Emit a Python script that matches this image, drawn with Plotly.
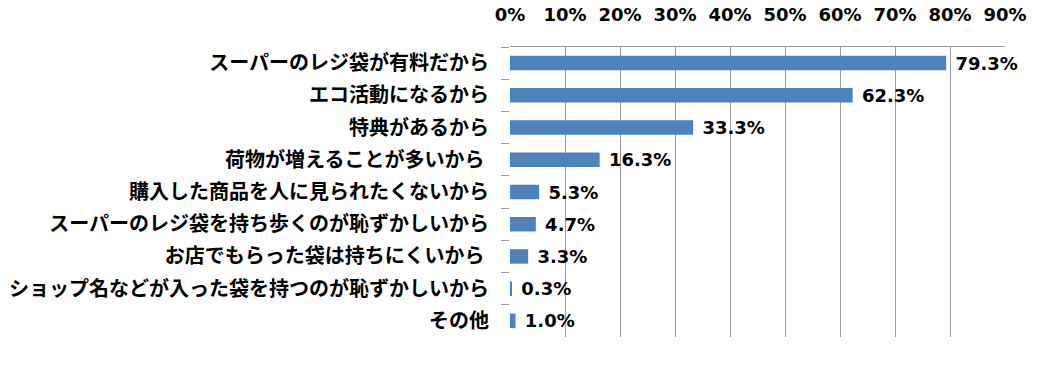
import plotly.graph_objects as go

categories = [
    "スーパーのレジ袋が有料だから",
    "エコ活動になるから",
    "特典があるから",
    "荷物が増えることが多いから\u00a0",
    "購入した商品を人に見られたくないから",
    "スーパーのレジ袋を持ち歩くのが恥ずかしいから",
    "お店でもらった袋は持ちにくいから\u00a0",
    "ショップ名などが入った袋を持つのが恥ずかしいから",
    "その他",
]
values = [79.3, 62.3, 33.3, 16.3, 5.3, 4.7, 3.3, 0.3, 1.0]
tick_vals = [0, 10, 20, 30, 40, 50, 60, 70, 80, 90]
tick_text = ["0%", "10%", "20%", "30%", "40%", "50%", "60%", "70%", "80%", "90%"]

fig = go.Figure(
    go.Bar(
        x=values,
        y=categories,
        orientation="h",
        marker=dict(color="#4F81BD", line=dict(width=0)),
        width=0.45,
        text=[f" {v:.1f}%" for v in values],
        textposition="outside",
        constraintext="none",
        textfont=dict(family="DejaVu Sans", size=18, color="black", weight="bold"),
        cliponaxis=False,
    )
)

fig.update_layout(
    width=1052,
    height=385,
    margin=dict(l=510, r=47, t=47, b=48),
    paper_bgcolor="white",
    plot_bgcolor="white",
    showlegend=False,
    font=dict(family="Noto Sans CJK JP", color="black"),
)

fig.update_xaxes(
    side="top",
    range=[0, 90],
    tickvals=tick_vals,
    ticktext=tick_text,
    tickfont=dict(family="DejaVu Sans", size=18, color="black", weight="bold"),
    showgrid=True,
    gridcolor="#999999",
    gridwidth=1,
    showline=True,
    linecolor="#999999",
    ticks="",
    ticklabelstandoff=18,
    zeroline=False,
    automargin=False,
    fixedrange=True,
)

fig.update_yaxes(
    autorange="reversed",
    tickfont=dict(family="Noto Sans CJK JP", size=20, color="black", weight="bold"),
    ticks="outside",
    tickson="boundaries",
    ticklen=8,
    tickcolor="#999999",
    showline=False,
    showgrid=False,
    ticklabelstandoff=20,
    automargin=False,
    fixedrange=True,
)

fig.write_html(
    "out.html",
    config={"displayModeBar": False},
    post_script="document.body.style.margin='0';document.body.style.padding='0';",
)
